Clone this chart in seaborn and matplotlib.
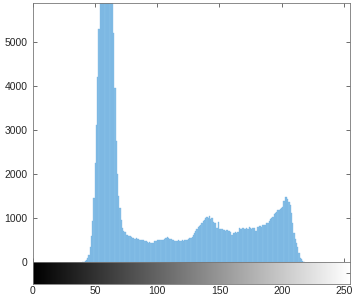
import numpy as np
import pandas as pd
import matplotlib
matplotlib.use("Agg")
import matplotlib.pyplot as plt
import seaborn as sns

# ---- data ----
first_level = 40
pixel_counts = [
    0, 5, 15, 40, 90, 160, 330, 580, 920, 1450,            # 40-49
    2250, 3100, 4200, 5300, 6400, 7300, 8100, 8600, 8900, 8800,  # 50-59
    8500, 8000, 7400, 6700, 6000, 5200, 3950, 2750, 2000, 1500,  # 60-69
    1220, 950, 780, 700, 680, 620, 610, 600, 580, 570,      # 70-79
    550, 540, 530, 545, 520, 530, 510, 500, 505, 490,       # 80-89
    480, 470, 450, 440, 445, 430, 440, 435, 470, 480,       # 90-99
    490, 500, 495, 510, 500, 505, 520, 540, 560, 550,       # 100-109
    530, 520, 510, 490, 480, 485, 480, 490, 485, 480,       # 110-119
    490, 485, 490, 500, 510, 530, 540, 545, 560, 620,       # 120-129
    660, 700, 760, 790, 820, 850, 880, 920, 960, 990,       # 130-139
    1030, 1010, 1040, 980, 1000, 900, 890, 880, 770, 900,   # 140-149
    760, 750, 740, 720, 720, 710, 720, 700, 700, 690,       # 150-159
    610, 660, 650, 670, 660, 690, 770, 760, 740, 770,       # 160-169
    760, 740, 780, 760, 800, 770, 760, 780, 770, 700,       # 170-179
    710, 800, 810, 820, 800, 840, 830, 850, 880, 890,       # 180-189
    930, 980, 1000, 1030, 1080, 1110, 1130, 1170, 1190, 1210,  # 190-199
    1230, 1250, 1380, 1470, 1470, 1440, 1370, 1300, 1110, 890,  # 200-209
    660, 520, 430, 340, 200, 100, 60, 20, 0,                # 210-218
]
gray_levels = list(range(first_level, first_level + len(pixel_counts)))
y_ticks = [0, 1000, 2000, 3000, 4000, 5000]
x_ticks = [0, 50, 100, 150, 200, 250]
y_top = 5880

df = pd.DataFrame({"level": gray_levels, "count": pixel_counts})

sns.set_theme(style="white")
plt.rcParams["font.family"] = ["Liberation Sans", "DejaVu Sans"]

W, H = 353, 297
fig = plt.figure(figsize=(W / 100, H / 100), dpi=100)
ax = fig.add_axes([33 / W, (H - 262) / H, 317 / W, 259 / H])
cax = fig.add_axes([33 / W, (H - 284) / H, 317 / W, 22 / H])

sns.histplot(data=df, x="level", weights="count", discrete=True,
             color="#86BEE6", edgecolor="#74B3E2", linewidth=0.25,
             alpha=1.0, ax=ax)

ax.set_xlim(0, 255)
ax.set_ylim(0, y_top)
ax.set_xlabel("")
ax.set_ylabel("")
ax.set_xticks(x_ticks)
ax.set_xticklabels([])
ax.set_yticks(y_ticks)
ax.set_yticklabels([str(v) for v in y_ticks])
ax.tick_params(axis="both", direction="in", length=3, width=0.6,
               colors="#555555", labelcolor="#262626", labelsize=7.5,
               top=True, right=True, bottom=True, left=True, pad=4)
for s in ax.spines.values():
    s.set_visible(True)
    s.set_color("#777777")
    s.set_linewidth(0.6)

gradient = np.linspace(0, 1, 256).reshape(1, -1)
cax.imshow(gradient, aspect="auto", cmap="gray", extent=[0, 255, 0, 1],
           interpolation="bilinear")
cax.set_xlim(0, 255)
cax.set_ylim(0, 1)
cax.set_xticks(x_ticks)
cax.set_xticklabels([str(v) for v in x_ticks])
cax.set_yticks([0.5])
cax.set_yticklabels([])
cax.tick_params(axis="x", length=0, labelsize=7.5, labelcolor="#262626", pad=1.5)
cax.tick_params(axis="y", direction="in", length=3, width=0.6, colors="#555555",
                left=False, right=True)
for s in cax.spines.values():
    s.set_visible(True)
    s.set_color("#777777")
    s.set_linewidth(0.6)

fig.savefig("out.png", dpi=100)
